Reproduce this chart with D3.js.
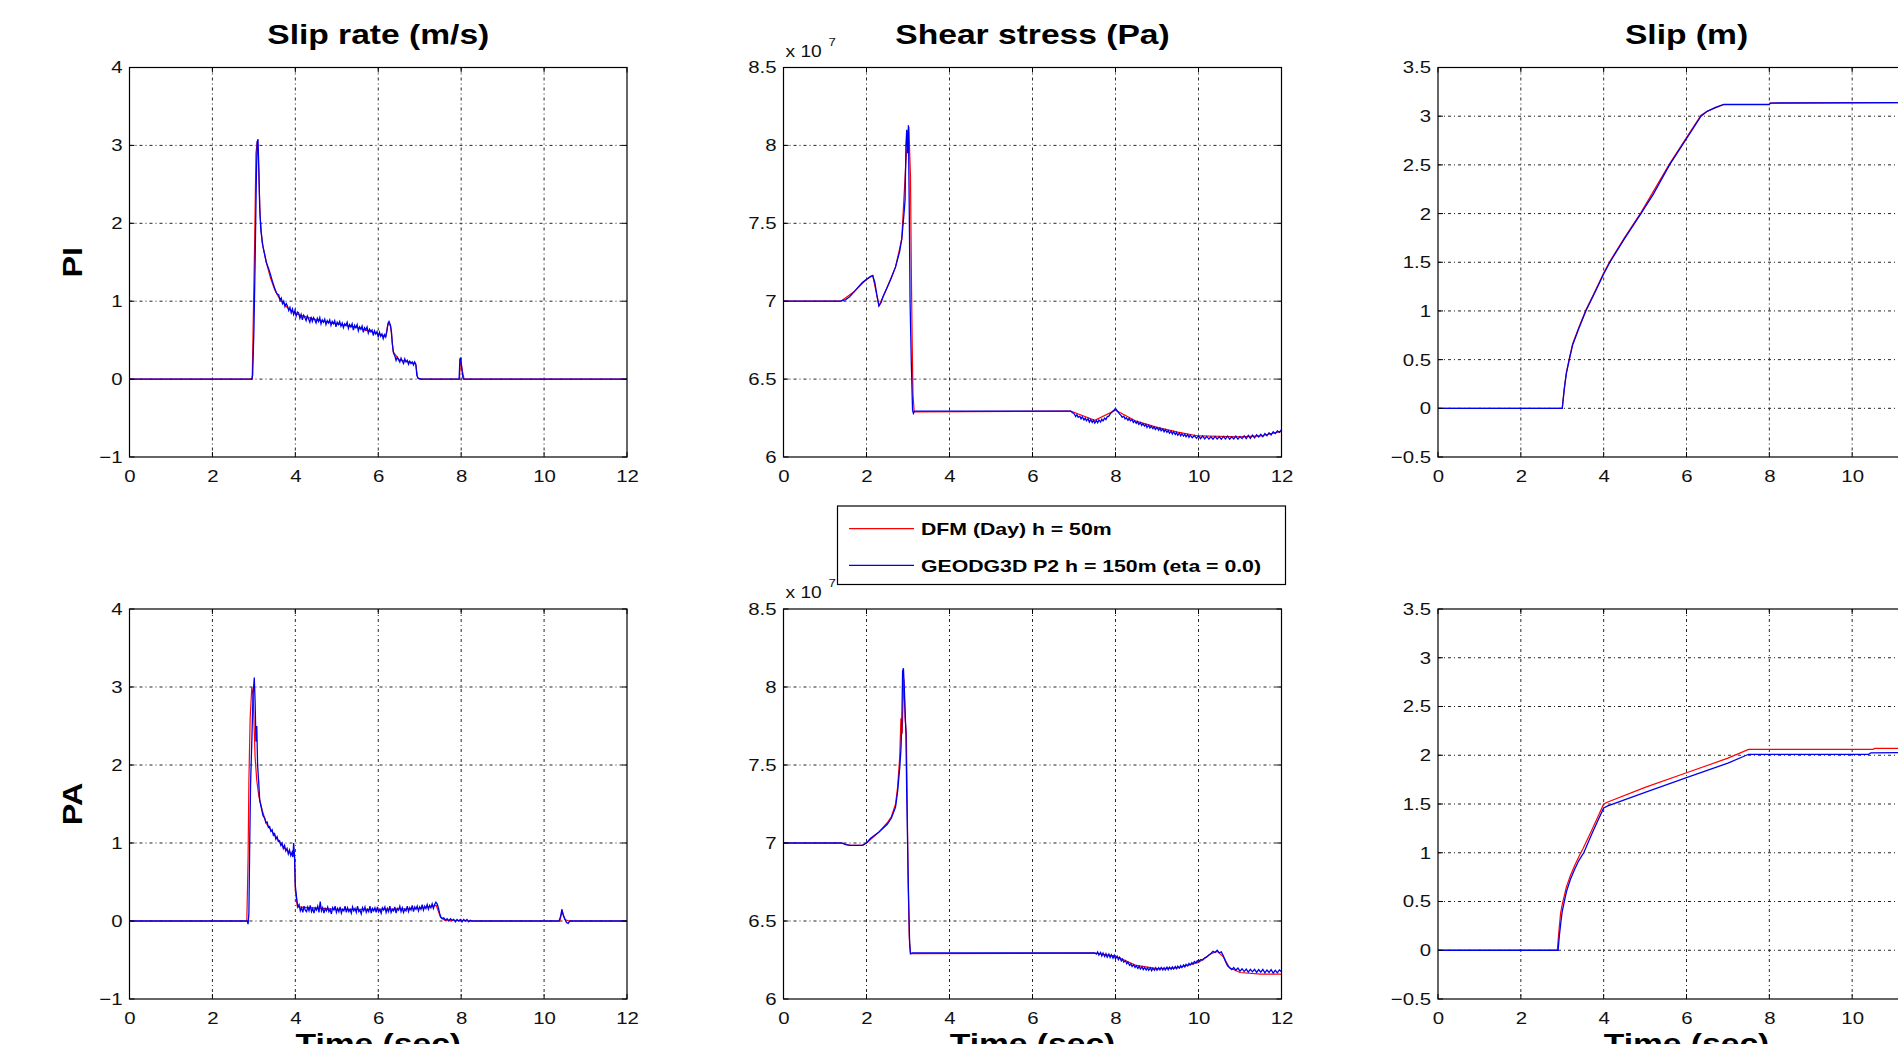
<!DOCTYPE html>
<html><head><meta charset="utf-8">
<script src="https://cdn.jsdelivr.net/npm/d3@7"></script>
<style>body{margin:0;background:#fff;} svg{display:block;background:#fff;}</style>
</head><body>
<svg id="chart" width="1898" height="1044"></svg>
<script>
// ---------------- DATA (time in s) ----------------
const timeTicks = [0, 2, 4, 6, 8, 10, 12];
const slipRateTicks = [-1, 0, 1, 2, 3, 4];
const stressTicks = [6, 6.5, 7, 7.5, 8, 8.5];      // x 10^7 Pa
const slipTicks = [-0.5, 0, 0.5, 1, 1.5, 2, 2.5, 3, 3.5];
const columnTitles = ["Slip rate (m/s)", "Shear stress (Pa)", "Slip (m)"];
const rowLabels = ["PI", "PA"];
const legendLabels = ["DFM (Day) h = 50m", "GEODG3D P2 h = 150m (eta = 0.0)"];
const xLabel = "Time (sec)";

// Slip rate, PI
const slipRatePI_DFM = [[0,0],[2.96,0],[2.98,0.6],[3.02,1.8],[3.05,2.9],[3.08,3.05],[3.11,2.8],[3.15,2.1],[3.2,1.75],[3.3,1.5],[3.4,1.3],[3.5,1.15],[3.6,1.05],[3.8,0.92],[4.0,0.84],[4.5,0.76],[5.0,0.71],[5.5,0.66],[6.0,0.58],[6.18,0.55],[6.24,0.72],[6.3,0.68],[6.36,0.35],[6.5,0.25],[6.9,0.2],[6.95,0.02],[7.0,0],[7.96,0],[7.98,0.25],[8.03,0.1],[8.07,0],[12,0]];
const slipRatePI_GEO = [[0,0],[2.95,0],[2.97,0.05],[3.0,0.6],[3.03,1.5],[3.06,2.6],[3.08,3.05],[3.1,3.08],[3.12,2.7],[3.14,2.2],[3.17,1.9],[3.22,1.7],[3.3,1.5],[3.38,1.38],[3.45,1.25],[3.5,1.17],[3.55,1.1],
[3.60,1.08],[3.63,1.01],[3.66,1.04],[3.69,0.97],[3.72,1.00],[3.75,0.93],[3.78,0.97],[3.81,0.94],[3.84,0.88],[3.87,0.92],[3.90,0.85],[3.93,0.90],[3.96,0.83],[3.99,0.88],[4.02,0.81],[4.05,0.86],[4.08,0.85],[4.11,0.78],[4.14,0.83],[4.17,0.76],[4.20,0.82],[4.23,0.79],[4.26,0.75],[4.29,0.81],[4.32,0.77],[4.35,0.73],[4.38,0.80],[4.41,0.74],[4.44,0.79],[4.47,0.76],[4.50,0.72],[4.53,0.78],[4.56,0.74],[4.59,0.79],[4.62,0.71],[4.65,0.76],[4.68,0.73],[4.71,0.77],[4.74,0.70],[4.77,0.75],[4.80,0.72],[4.83,0.76],[4.86,0.69],[4.89,0.74],[4.92,0.71],[4.95,0.75],[4.98,0.67],[5.01,0.73],[5.04,0.70],[5.07,0.74],[5.10,0.68],[5.13,0.72],[5.16,0.66],[5.19,0.71],[5.22,0.69],[5.25,0.73],[5.28,0.65],[5.31,0.70],[5.34,0.67],[5.37,0.71],[5.40,0.63],[5.43,0.69],[5.46,0.66],[5.49,0.70],[5.52,0.62],[5.55,0.67],[5.58,0.64],[5.61,0.68],[5.64,0.60],[5.67,0.66],[5.70,0.63],[5.73,0.67],[5.76,0.59],[5.79,0.64],[5.82,0.61],[5.85,0.63],[5.88,0.56],[5.91,0.62],[5.94,0.58],[5.97,0.61],[6.00,0.54],[6.03,0.60],[6.06,0.55],[6.09,0.58],[6.12,0.52],[6.15,0.57],[6.18,0.54],
[6.21,0.62],[6.23,0.70],[6.26,0.74],[6.29,0.70],[6.32,0.60],[6.34,0.45],[6.37,0.33],[6.40,0.30],[6.43,0.24],[6.46,0.28],[6.49,0.25],[6.52,0.22],[6.55,0.27],[6.58,0.23],[6.61,0.20],[6.64,0.26],[6.67,0.22],[6.70,0.24],[6.73,0.19],[6.76,0.23],[6.79,0.20],[6.82,0.22],[6.85,0.18],[6.88,0.22],[6.91,0.18],[6.93,0.05],[6.96,0.01],[7.05,0],[7.95,0],[7.97,0.26],[7.99,0.27],[8.02,0.12],[8.04,0.02],[8.06,0],[12,0]];

// Shear stress, PI (units of 1e7 Pa)
const stressPI_DFM = [[0,7.0],[1.38,7.0],[1.7,7.06],[2.0,7.14],[2.15,7.165],[2.3,6.97],[2.5,7.09],[2.7,7.22],[2.85,7.4],[2.95,7.9],[3.02,8.12],[3.06,7.8],[3.08,7.2],[3.1,6.75],[3.12,6.4],[3.15,6.29],[6.92,6.295],[7.5,6.235],[8.0,6.3],[8.5,6.23],[9,6.19],[9.5,6.16],[10,6.135],[11,6.13],[11.5,6.135],[12,6.165]];
const stressPI_GEO = [[0,7.0],[1.38,7.0],[1.5,7.01],[1.6,7.03],[1.7,7.06],[1.8,7.09],[1.9,7.12],[2.0,7.14],[2.1,7.16],[2.15,7.165],[2.2,7.12],[2.25,7.04],[2.3,6.97],[2.35,6.99],[2.4,7.03],[2.5,7.09],[2.6,7.15],[2.7,7.22],[2.8,7.32],[2.85,7.4],[2.9,7.55],[2.93,7.65],[2.95,8.0],[2.97,8.1],[2.99,7.95],[3.01,8.13],[3.03,7.6],[3.05,7.0],[3.08,6.6],[3.11,6.3],[3.13,6.28],[3.16,6.295],[6.92,6.295],
[6.96,6.285],[7.0,6.28],[7.04,6.26],[7.07,6.272],[7.1,6.255],[7.14,6.262],[7.17,6.245],[7.2,6.258],[7.24,6.238],[7.27,6.25],[7.3,6.232],[7.34,6.246],[7.37,6.224],[7.4,6.24],[7.44,6.222],[7.47,6.236],[7.5,6.218],[7.54,6.234],[7.57,6.22],[7.6,6.238],[7.64,6.224],[7.67,6.242],[7.7,6.232],[7.74,6.25],[7.77,6.24],[7.8,6.258],[7.84,6.262],[7.87,6.275],[7.9,6.285],[7.94,6.295],[7.97,6.302],[8.0,6.312],[8.03,6.3],[8.06,6.29],[8.1,6.275],[8.13,6.268],[8.16,6.255],[8.2,6.262],[8.23,6.245],[8.26,6.252],[8.3,6.236],[8.33,6.248],[8.36,6.232],[8.4,6.24],[8.43,6.222],[8.46,6.232],[8.5,6.216],[8.53,6.228],[8.56,6.21],[8.6,6.22],[8.63,6.202],[8.66,6.214],[8.7,6.198],[8.73,6.21],[8.76,6.19],[8.8,6.204],[8.83,6.186],[8.86,6.198],[8.9,6.182],[8.93,6.194],[8.96,6.176],[9.0,6.19],[9.04,6.172],[9.07,6.186],[9.1,6.168],[9.14,6.18],[9.17,6.162],[9.2,6.176],[9.24,6.158],[9.27,6.17],[9.3,6.152],[9.34,6.166],[9.37,6.148],[9.4,6.162],[9.44,6.144],[9.47,6.158],[9.5,6.14],[9.54,6.154],[9.57,6.136],[9.6,6.15],[9.64,6.134],[9.67,6.146],[9.7,6.13],[9.74,6.144],[9.77,6.126],[9.8,6.14],[9.85,6.124],[9.9,6.138],[9.95,6.12],[10.0,6.136],[10.05,6.118],[10.1,6.134],[10.15,6.116],[10.2,6.132],[10.25,6.115],[10.3,6.13],[10.35,6.114],[10.4,6.132],[10.45,6.116],[10.5,6.13],[10.55,6.114],[10.6,6.132],[10.65,6.116],[10.7,6.134],[10.75,6.115],[10.8,6.13],[10.85,6.116],[10.9,6.134],[10.95,6.114],[11.0,6.132],[11.05,6.118],[11.1,6.136],[11.15,6.118],[11.2,6.138],[11.25,6.12],[11.3,6.14],[11.35,6.122],[11.4,6.142],[11.45,6.128],[11.5,6.146],[11.55,6.13],[11.6,6.15],[11.65,6.136],[11.7,6.156],[11.75,6.142],[11.8,6.162],[11.85,6.15],[11.9,6.168],[11.95,6.158],[12.0,6.175]];

// Slip, PI
const slipPI_DFM = [[0,0],[3.0,0],[3.05,0.21],[3.1,0.37],[3.17,0.51],[3.25,0.66],[3.4,0.83],[3.57,1.01],[3.8,1.21],[4.0,1.39],[4.15,1.51],[4.5,1.75],[4.9,2.01],[5.59,2.51],[6.0,2.78],[6.35,3.01],[6.5,3.05],[6.9,3.12],[8.0,3.12],[8.02,3.135],[12,3.14]];
const slipPI_GEO = [[0,0],[3.0,0],[3.05,0.2],[3.1,0.36],[3.17,0.5],[3.25,0.65],[3.4,0.82],[3.57,1.0],[3.8,1.2],[4.0,1.38],[4.15,1.5],[4.5,1.74],[4.9,2.0],[5.2,2.2],[5.59,2.5],[6.0,2.77],[6.35,3.0],[6.5,3.05],[6.7,3.09],[6.9,3.12],[8.0,3.12],[8.02,3.135],[12,3.14]];

// Slip rate, PA
const slipRatePA_DFM = [[0,0],[2.83,0],[2.86,0.8],[2.88,1.8],[2.91,2.6],[2.95,3.0],[2.98,2.9],[3.0,2.6],[3.03,2.1],[3.07,1.8],[3.12,1.6],[3.2,1.42],[3.3,1.25],[3.5,1.1],[3.7,0.95],[3.9,0.86],[3.98,0.83],[4.0,0.4],[4.05,0.18],[5,0.15],[6,0.15],[7,0.16],[7.4,0.2],[7.5,0.05],[7.6,0.01],[8.3,0],[10.38,0],[10.43,0.13],[10.5,0.02],[10.6,0],[12,0]];
const slipRatePA_GEO = [[0,0],[2.84,0],[2.86,-0.04],[2.88,0.1],[2.9,1.0],[2.92,1.75],[2.95,2.3],[2.98,2.9],[3.01,3.12],[3.03,2.8],[3.05,2.3],[3.07,2.5],[3.09,2.0],[3.12,1.75],[3.14,1.55],[3.18,1.45],[3.22,1.35],
[3.26,1.32],[3.29,1.26],[3.32,1.27],[3.35,1.20],[3.38,1.21],[3.41,1.15],[3.44,1.17],[3.47,1.10],[3.50,1.12],[3.53,1.05],[3.56,1.08],[3.59,1.02],[3.62,1.03],[3.65,0.97],[3.68,1.00],[3.71,0.93],[3.74,0.97],[3.77,0.90],[3.80,0.93],[3.83,0.86],[3.86,0.91],[3.89,0.84],[3.92,0.88],[3.94,0.82],[3.96,1.0],[3.98,0.84],[4.00,0.45],[4.03,0.30],[4.06,0.18],
[4.09,0.21],[4.12,0.13],[4.15,0.17],[4.18,0.11],[4.21,0.19],[4.24,0.14],[4.27,0.12],[4.30,0.18],[4.33,0.13],[4.36,0.20],[4.39,0.12],[4.42,0.16],[4.45,0.10],[4.48,0.17],[4.51,0.14],[4.54,0.19],[4.57,0.11],[4.60,0.25],[4.63,0.13],[4.66,0.17],[4.69,0.10],[4.72,0.16],[4.75,0.13],[4.78,0.18],[4.81,0.12],[4.84,0.15],[4.87,0.09],[4.90,0.17],[4.93,0.14],[4.96,0.19],[4.99,0.11],[5.02,0.16],[5.05,0.12],[5.08,0.18],[5.11,0.10],[5.14,0.15],[5.17,0.13],[5.20,0.19],[5.23,0.11],[5.26,0.17],[5.29,0.12],[5.32,0.15],[5.35,0.10],[5.38,0.18],[5.41,0.13],[5.44,0.16],[5.47,0.11],[5.50,0.19],[5.53,0.12],[5.56,0.14],[5.59,0.09],[5.62,0.17],[5.65,0.13],[5.68,0.18],[5.71,0.11],[5.74,0.15],[5.77,0.12],[5.80,0.19],[5.83,0.10],[5.86,0.16],[5.89,0.13],[5.92,0.17],[5.95,0.11],[5.98,0.18],[6.01,0.12],[6.04,0.15],[6.07,0.10],[6.10,0.17],[6.13,0.14],[6.16,0.18],[6.19,0.11],[6.22,0.16],[6.25,0.12],[6.28,0.19],[6.31,0.11],[6.34,0.15],[6.37,0.13],[6.40,0.18],[6.43,0.10],[6.46,0.16],[6.49,0.14],[6.52,0.19],[6.55,0.12],[6.58,0.17],[6.61,0.11],[6.64,0.15],[6.67,0.13],[6.70,0.19],[6.73,0.12],[6.76,0.17],[6.79,0.14],[6.82,0.20],[6.85,0.12],[6.88,0.18],[6.91,0.15],[6.94,0.19],[6.97,0.13],[7.00,0.18],[7.03,0.15],[7.06,0.21],[7.09,0.14],[7.12,0.19],[7.15,0.16],[7.18,0.21],[7.21,0.15],[7.24,0.20],[7.27,0.17],[7.30,0.22],[7.33,0.16],[7.36,0.21],[7.39,0.24],[7.42,0.22],
[7.45,0.17],[7.48,0.10],[7.51,0.05],[7.54,0.03],[7.58,0.04],[7.62,0.01],[7.66,0.03],[7.70,0.00],[7.74,0.03],[7.78,0.01],[7.82,0.02],[7.86,-0.01],[7.90,0.02],[7.94,0.00],[7.98,0.02],[8.02,-0.01],[8.06,0.02],[8.10,0.00],[8.14,0.02],[8.18,-0.01],[8.22,0.01],[8.26,0.00],[8.30,0.00],[10.36,0],[10.40,0.06],[10.43,0.15],[10.46,0.08],[10.50,0.03],[10.54,-0.02],[10.58,-0.03],[10.62,0],[12,0]];

// Shear stress, PA (units of 1e7 Pa)
const stressPA_DFM = [[0,7.0],[1.4,7.0],[1.6,6.985],[1.9,6.985],[2.0,7.0],[2.3,7.07],[2.5,7.13],[2.6,7.17],[2.7,7.25],[2.75,7.36],[2.8,7.55],[2.83,7.8],[2.86,7.7],[2.88,7.9],[2.9,8.05],[2.93,7.8],[2.96,7.7],[2.98,7.3],[3.0,6.8],[3.03,6.4],[3.06,6.29],[7.5,6.295],[8.0,6.275],[8.5,6.215],[9.0,6.195],[9.5,6.2],[10,6.235],[10.3,6.29],[10.45,6.305],[10.6,6.27],[10.75,6.2],[11,6.17],[11.5,6.16],[12,6.16]];
const stressPA_GEO = [[0,7.0],[1.4,7.0],[1.5,6.99],[1.6,6.985],[1.9,6.985],[2.0,7.0],[2.1,7.03],[2.3,7.07],[2.5,7.12],[2.6,7.16],[2.7,7.23],[2.75,7.33],[2.8,7.48],[2.83,7.6],[2.85,7.75],[2.87,8.1],[2.89,8.12],[2.91,8.0],[2.93,7.85],[2.95,7.7],[2.97,7.3],[2.99,7.0],[3.01,6.7],[3.04,6.35],[3.06,6.29],[3.1,6.295],[7.5,6.295],
[7.54,6.288],[7.57,6.302],[7.6,6.282],[7.64,6.298],[7.67,6.276],[7.7,6.294],[7.74,6.272],[7.77,6.29],[7.8,6.268],[7.84,6.288],[7.87,6.266],[7.9,6.284],[7.94,6.262],[7.97,6.28],[8.0,6.258],[8.04,6.274],[8.07,6.252],[8.1,6.268],[8.14,6.244],[8.17,6.256],[8.2,6.236],[8.24,6.246],[8.27,6.226],[8.3,6.236],[8.34,6.216],[8.37,6.226],[8.4,6.208],[8.44,6.22],[8.47,6.202],[8.5,6.214],[8.54,6.196],[8.57,6.21],[8.6,6.192],[8.64,6.206],[8.67,6.188],[8.7,6.202],[8.74,6.186],[8.77,6.2],[8.8,6.184],[8.84,6.2],[8.87,6.182],[8.9,6.198],[8.94,6.184],[8.97,6.2],[9.0,6.184],[9.04,6.2],[9.07,6.186],[9.1,6.202],[9.14,6.186],[9.17,6.2],[9.2,6.186],[9.24,6.204],[9.27,6.188],[9.3,6.204],[9.34,6.19],[9.37,6.206],[9.4,6.192],[9.44,6.208],[9.47,6.194],[9.5,6.21],[9.54,6.198],[9.57,6.214],[9.6,6.202],[9.64,6.218],[9.67,6.206],[9.7,6.222],[9.74,6.212],[9.77,6.228],[9.8,6.218],[9.84,6.234],[9.87,6.224],[9.9,6.24],[9.94,6.232],[9.97,6.246],[10.0,6.24],[10.05,6.252],[10.1,6.25],[10.15,6.262],[10.2,6.27],[10.25,6.282],[10.3,6.292],[10.35,6.306],[10.4,6.298],[10.45,6.312],[10.5,6.296],[10.55,6.302],[10.6,6.276],[10.65,6.24],[10.7,6.212],[10.75,6.2],[10.8,6.188],[10.85,6.202],[10.9,6.184],[10.95,6.198],[11.0,6.178],[11.05,6.194],[11.1,6.176],[11.15,6.192],[11.2,6.172],[11.25,6.19],[11.3,6.174],[11.35,6.19],[11.4,6.17],[11.45,6.188],[11.5,6.172],[11.55,6.19],[11.6,6.168],[11.65,6.186],[11.7,6.17],[11.75,6.188],[11.8,6.166],[11.85,6.184],[11.9,6.168],[11.95,6.186],[12.0,6.175]];

// Slip, PA
const slipPA_DFM = [[0,0],[2.88,0],[2.92,0.2],[2.96,0.38],[3.0,0.47],[3.05,0.56],[3.1,0.65],[3.2,0.77],[3.3,0.87],[3.4,0.96],[3.5,1.04],[3.7,1.22],[3.85,1.36],[4.0,1.5],[4.1,1.52],[5.0,1.67],[6.0,1.82],[7.0,1.97],[7.5,2.06],[10.5,2.06],[10.55,2.07],[12,2.07]];
const slipPA_GEO = [[0,0],[2.9,0],[2.93,0.15],[2.97,0.3],[3.0,0.4],[3.05,0.5],[3.1,0.6],[3.2,0.73],[3.3,0.83],[3.4,0.92],[3.52,1.0],[3.7,1.18],[3.85,1.32],[4.0,1.46],[4.1,1.48],[5.0,1.62],[6.0,1.77],[7.0,1.92],[7.5,2.01],[10.4,2.01],[10.45,2.025],[12,2.03]];

// ---------------- LAYOUT ----------------
const W = 1898, H = 1044;
const cols = [{x0:129.5, x1:627}, {x0:783.5, x1:1281.5}, {x0:1438, x1:1935}];
const rows = [{y0:67.5, y1:457}, {y0:609, y1:999}];
const RED = "#ff0000", BLUE = "#0000ee";
const SX = 1.2; // horizontal glyph stretch seen in the reference
const FONT = "'Liberation Sans', Arial, Helvetica, sans-serif";

const panels = [
  {r:0, c:0, ticks:slipRateTicks, s:[slipRatePI_DFM, slipRatePI_GEO]},
  {r:0, c:1, ticks:stressTicks,   s:[stressPI_DFM, stressPI_GEO], exp:true},
  {r:0, c:2, ticks:slipTicks,     s:[slipPI_DFM, slipPI_GEO]},
  {r:1, c:0, ticks:slipRateTicks, s:[slipRatePA_DFM, slipRatePA_GEO]},
  {r:1, c:1, ticks:stressTicks,   s:[stressPA_DFM, stressPA_GEO], exp:true},
  {r:1, c:2, ticks:slipTicks,     s:[slipPA_DFM, slipPA_GEO]},
];

const svg = d3.select("#chart");
svg.append("rect").attr("width", W).attr("height", H).attr("fill", "#fff");
const defs = svg.append("defs");
const fmt = d => String(d).replace("-", "\u2212");

function txt(g, x, y, s, o) {
  o = o || {};
  return g.append("text")
    .attr("transform", `translate(${x},${y})` + (o.rot ? ` rotate(${o.rot})` : "") + ` scale(${o.sx || SX},1)`)
    .attr("text-anchor", o.anchor || "middle")
    .attr("font-family", FONT)
    .attr("font-size", o.size || 16)
    .attr("font-weight", o.bold ? "bold" : "normal")
    .attr("fill", o.fill || "#000")
    .text(s);
}

panels.forEach((p, i) => {
  const C = cols[p.c], R = rows[p.r];
  const x = d3.scaleLinear().domain([timeTicks[0], timeTicks[timeTicks.length-1]]).range([C.x0, C.x1]);
  const y = d3.scaleLinear().domain([p.ticks[0], p.ticks[p.ticks.length-1]]).range([R.y1, R.y0]);
  const g = svg.append("g");

  defs.append("clipPath").attr("id", "clip" + i).append("rect")
    .attr("x", C.x0).attr("y", R.y0).attr("width", C.x1 - C.x0).attr("height", R.y1 - R.y0);

  // grid
  const grid = g.append("g").attr("stroke", "#000").attr("stroke-width", 1)
    .attr("stroke-dasharray", "3,3,1,3").attr("opacity", 0.85);
  grid.selectAll("line.v").data(timeTicks.slice(1, -1)).join("line")
    .attr("x1", d => x(d)).attr("x2", d => x(d)).attr("y1", R.y0).attr("y2", R.y1);
  grid.selectAll("line.h").data(p.ticks.slice(1, -1)).join("line")
    .attr("x1", C.x0).attr("x2", C.x1).attr("y1", d => y(d)).attr("y2", d => y(d));

  // series
  const line = d3.line().x(d => x(d[0])).y(d => y(d[1]));
  const lg = g.append("g").attr("clip-path", `url(#clip${i})`).attr("fill", "none");
  lg.append("path").datum(p.s[0]).attr("d", line).attr("stroke", RED).attr("stroke-width", 1.2);
  lg.append("path").datum(p.s[1]).attr("d", line).attr("stroke", BLUE).attr("stroke-width", 1.3);

  // box
  g.append("rect").attr("x", C.x0).attr("y", R.y0).attr("width", C.x1 - C.x0).attr("height", R.y1 - R.y0)
    .attr("fill", "none").attr("stroke", "#000").attr("stroke-width", 1.2);

  // inner tick marks
  const tk = g.append("g").attr("stroke", "#000").attr("stroke-width", 1);
  timeTicks.forEach(t => {
    tk.append("line").attr("x1", x(t)).attr("x2", x(t)).attr("y1", R.y1).attr("y2", R.y1 - 5);
    tk.append("line").attr("x1", x(t)).attr("x2", x(t)).attr("y1", R.y0).attr("y2", R.y0 + 5);
  });
  p.ticks.forEach(t => {
    tk.append("line").attr("x1", C.x0).attr("x2", C.x0 + 5).attr("y1", y(t)).attr("y2", y(t));
    tk.append("line").attr("x1", C.x1).attr("x2", C.x1 - 5).attr("y1", y(t)).attr("y2", y(t));
  });

  // tick labels via axes
  const ax = g.append("g").attr("transform", `translate(${C.x0},0)`)
    .call(d3.axisLeft(y).tickValues(p.ticks).tickSize(0).tickPadding(8).tickFormat(fmt));
  ax.select(".domain").remove();
  ax.selectAll("text").attr("font-family", FONT).attr("font-size", 17).attr("fill", "#111")
    .attr("x", -7 / SX).attr("transform", `scale(${SX},1)`);

  const bx = g.append("g").attr("transform", `translate(0,${R.y1})`)
    .call(d3.axisBottom(x).tickValues(timeTicks).tickSize(0).tickFormat(fmt));
  bx.select(".domain").remove();
  bx.selectAll("text").attr("font-family", FONT).attr("font-size", 17).attr("fill", "#111")
    .attr("y", 25).attr("dy", 0).attr("transform", `scale(${SX},1)`);

  // exponent label
  if (p.exp) {
    txt(g, C.x0 + 2, R.y0 - 11, "x 10", {anchor: "start", size: 16, fill: "#111"});
    txt(g, C.x0 + 45, R.y0 - 22, "7", {anchor: "start", size: 11, fill: "#111"});
  }

  // column titles / x labels
  const cx = (C.x0 + C.x1) / 2;
  if (p.r === 0) txt(g, cx, 44, columnTitles[p.c], {size: 28, bold: true});
  if (p.r === 1) txt(g, cx, 1053, xLabel, {size: 28, bold: true});
  if (p.c === 0) txt(g, 82, (R.y0 + R.y1) / 2, rowLabels[p.r], {size: 27, bold: true, rot: -90});
});

// legend
const L = svg.append("g");
L.append("rect").attr("x", 837.5).attr("y", 506).attr("width", 448).attr("height", 78.5)
  .attr("fill", "#fff").attr("stroke", "#000").attr("stroke-width", 1.2);
[[RED, 528.6], [BLUE, 565.3]].forEach((d, k) => {
  L.append("line").attr("x1", 849).attr("x2", 914).attr("y1", d[1]).attr("y2", d[1])
    .attr("stroke", d[0]).attr("stroke-width", 1.2);
  txt(L, 921, d[1] + 6.3, legendLabels[k], {anchor: "start", size: 17, bold: true, sx: 1.25});
});
</script>
</body></html>
